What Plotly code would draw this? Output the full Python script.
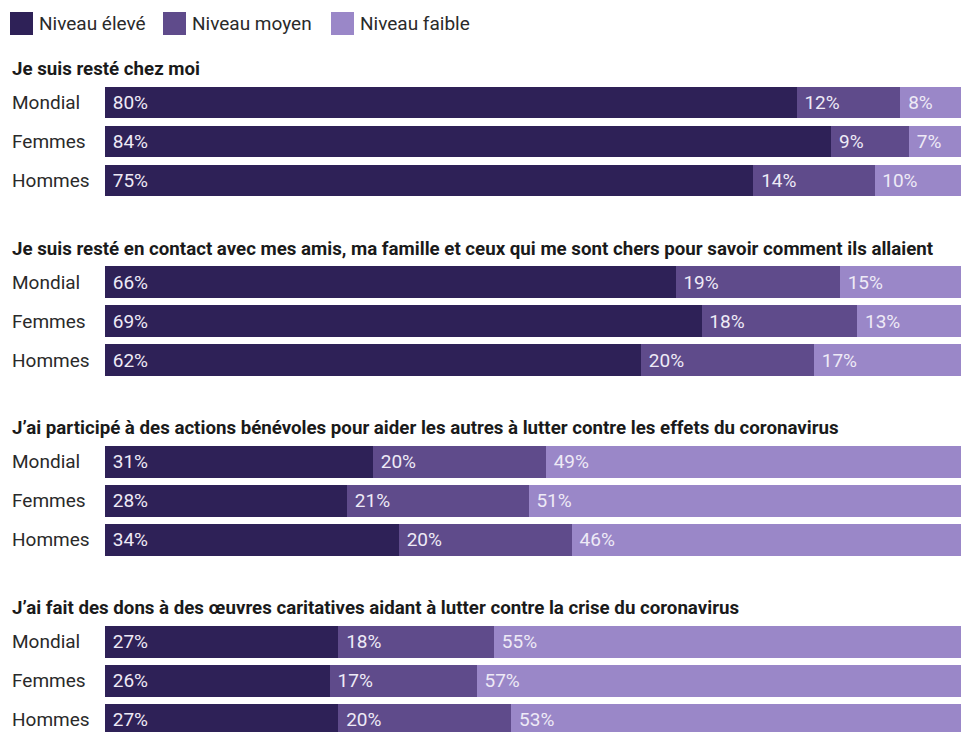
import plotly.graph_objects as go

# --- data ---
groups = ["Mondial", "Femmes", "Hommes"]
levels = ["Niveau élevé", "Niveau moyen", "Niveau faible"]
questions = [
    "Je suis resté chez moi",
    "Je suis resté en contact avec mes amis, ma famille et ceux qui me sont chers pour savoir comment ils allaient",
    "J’ai participé à des actions bénévoles pour aider les autres à lutter contre les effets du coronavirus",
    "J’ai fait des dons à des œuvres caritatives aidant à lutter contre la crise du coronavirus",
]
# values[question] -> [Mondial, Femmes, Hommes]
eleve = [[80, 84, 75], [66, 69, 62], [31, 28, 34], [27, 26, 27]]
moyen = [[12, 9, 14], [19, 18, 20], [20, 21, 20], [18, 17, 20]]
faible = [[8, 7, 10], [15, 13, 17], [49, 51, 46], [55, 57, 53]]

colors = ["#2e2157", "#5f4b8b", "#9a87c8"]

# --- layout constants (pixels) ---
W, H = 961, 732
LEFT = 105
PITCH = 39          # row pitch
SECTION = 179.7     # distance between sections
FIRST_ROW = 102.5   # centre of first bar
FONT = "Roboto, Arial, sans-serif"
LBL = 19
X_MAX = 99          # visible part of the 100 % scale (bars are cut at the right edge)

fig = go.Figure()
annotations = []
layout_axes = {}
label_x = (10 - LEFT) / (W - LEFT)

for q, title in enumerate(questions):
    n = "" if q == 0 else str(q + 1)
    top = FIRST_ROW + SECTION * q - PITCH / 2
    bottom = min(top + 3 * PITCH, H)
    dom = [1 - bottom / H, 1 - top / H]
    vis_rows = (bottom - top) / PITCH

    for lvl, vals in enumerate([eleve, moyen, faible]):
        fig.add_trace(go.Bar(
            y=groups, x=vals[q], orientation="h",
            name=levels[lvl], showlegend=False,
            marker=dict(color=colors[lvl], line=dict(width=0)),
            text=[f" {v}%" for v in vals[q]],
            textposition="inside", insidetextanchor="start",
            textfont=dict(color="#eeeaf6", size=LBL, family=FONT),
            xaxis="x" + n, yaxis="y" + n,
            hoverinfo="skip",
        ))

    layout_axes["xaxis" + n] = dict(range=[0, X_MAX], domain=[0, 1], anchor="y" + n,
                                    visible=False, fixedrange=True)
    layout_axes["yaxis" + n] = dict(type="category", categoryorder="array",
                                    categoryarray=groups,
                                    range=[-0.5 + vis_rows, -0.5],
                                    domain=dom, anchor="x" + n,
                                    showticklabels=False, showgrid=False,
                                    zeroline=False, fixedrange=True)

    # section title
    annotations.append(dict(
        text=f"<b>{title}</b>", xref="paper", yref="paper",
        x=label_x, y=1 - (top - 14) / H,
        xanchor="left", yanchor="middle", showarrow=False,
        font=dict(size=18.7, color="#1a1a1a", family=FONT),
    ))
    # row labels
    for g in groups:
        annotations.append(dict(
            text=g, xref="paper", yref="y" + n, x=label_x, y=g,
            xanchor="left", yanchor="middle", showarrow=False,
            font=dict(size=LBL, color="#2a2a2a", family=FONT),
        ))

# custom legend with large squares
legend_x = [10, 163, 331]
shapes = []
for i, lab in enumerate(levels):
    x0 = legend_x[i]
    shapes.append(dict(type="rect", xref="paper", yref="paper",
                       x0=(x0 - LEFT) / (W - LEFT), x1=(x0 + 23 - LEFT) / (W - LEFT),
                       y0=1 - 35 / H, y1=1 - 12 / H,
                       fillcolor=colors[i], line=dict(width=0)))
    annotations.append(dict(
        text=lab, xref="paper", yref="paper",
        x=(x0 + 27 - LEFT) / (W - LEFT), y=1 - 23.5 / H,
        xanchor="left", yanchor="middle", showarrow=False,
        font=dict(size=LBL, color="#2a2a2a", family=FONT),
    ))

fig.update_layout(
    width=W, height=H,
    margin=dict(l=LEFT, r=0, t=0, b=0),
    barmode="stack", bargap=0.18,
    plot_bgcolor="white", paper_bgcolor="white",
    font=dict(family=FONT, size=LBL),
    uniformtext=dict(minsize=LBL, mode="show"),
    annotations=annotations, shapes=shapes,
    showlegend=False,
    **layout_axes,
)

fig.write_html("out.html", config={"displayModeBar": False},
               post_script="document.body.style.margin='0';")
